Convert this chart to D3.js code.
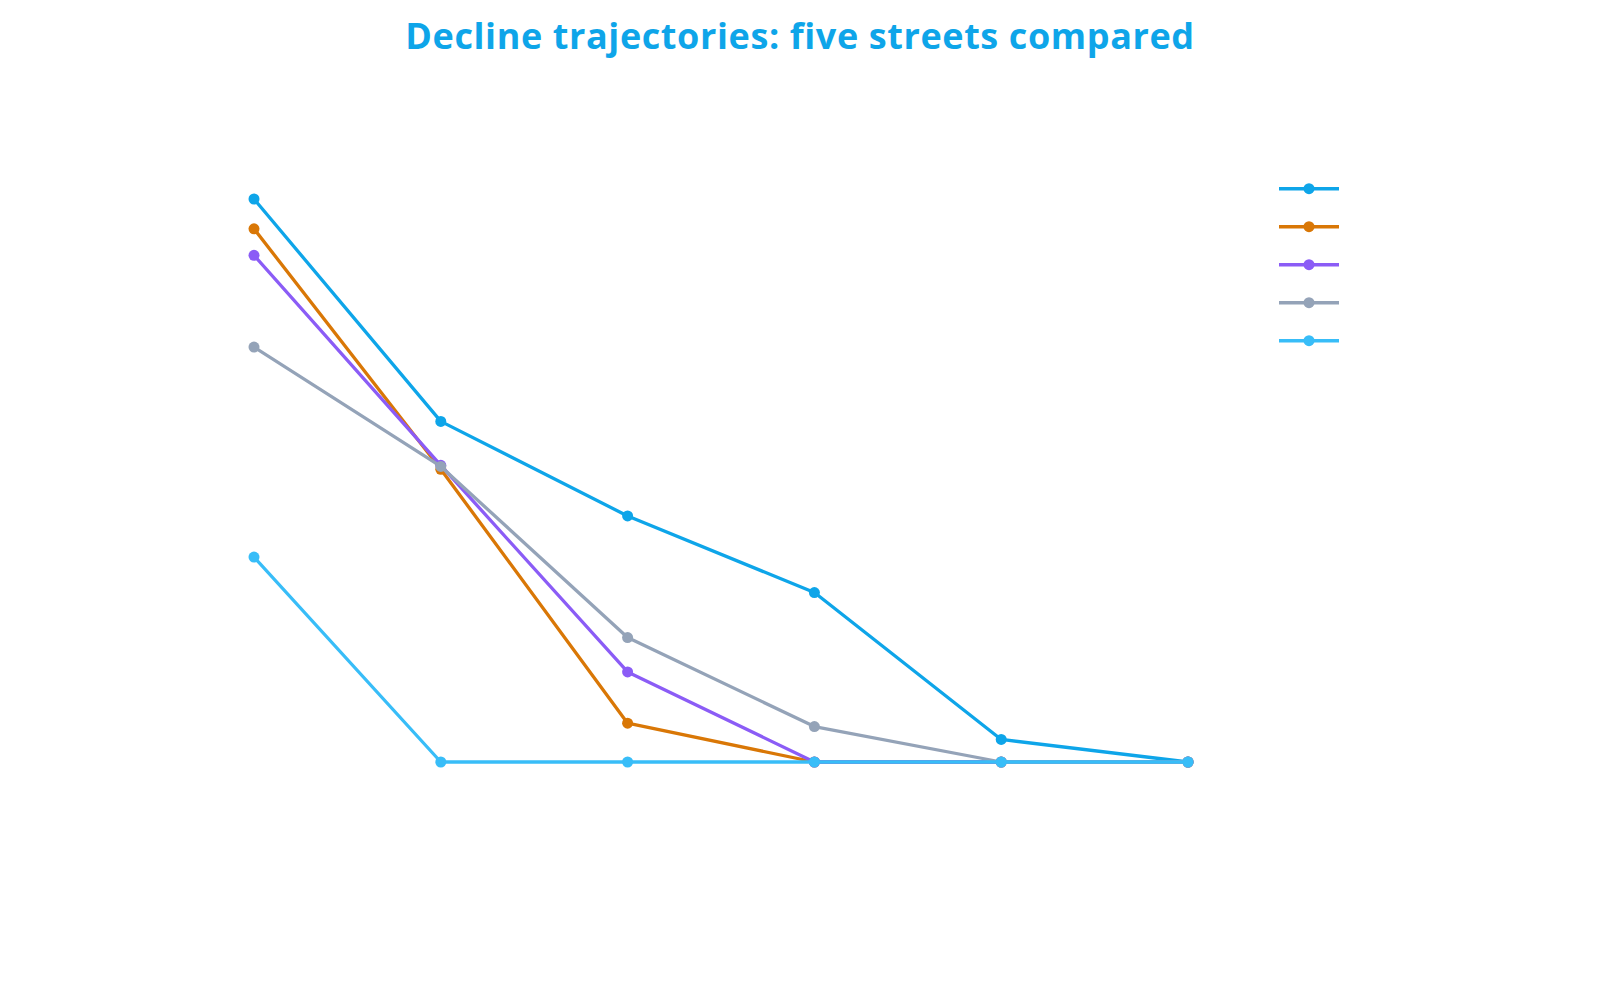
<!DOCTYPE html>
<html>
<head>
<meta charset="utf-8">
<script src="https://cdn.jsdelivr.net/npm/d3@7"></script>
<style>
  html, body { margin: 0; padding: 0; background: #ffffff; }
  svg { display: block; }
</style>
</head>
<body>
<svg id="chart" width="1600" height="1000"></svg>
<script>
// ---- data ----
const periods = ["P1", "P2", "P3", "P4", "P5", "P6"];
const seriesNames = ["Street A", "Street B", "Street C", "Street D", "Street E"];
const streetA = [100, 60.5, 43.7, 30.1, 4.0, 0];
const streetB = [94.7, 52.0, 6.9, 0, 0, 0];
const streetC = [90.0, 52.7, 16.0, 0, 0, 0];
const streetD = [73.7, 52.5, 22.1, 6.3, 0, 0];
const streetE = [36.4, 0, 0, 0, 0, 0];
const seriesColors = ["#0ea5e9", "#d97706", "#8b5cf6", "#94a3b8", "#38bdf8"];
const titleText = "Decline trajectories: five streets compared";

const allSeries = [streetA, streetB, streetC, streetD, streetE];

const svg = d3.select("#chart");

const x = d3.scalePoint().domain(periods).range([254, 1188]);
const y = d3.scaleLinear().domain([0, 100]).range([762, 199]);

svg.append("text")
  .attr("x", 800)
  .attr("y", 49)
  .attr("text-anchor", "middle")
  .attr("font-family", "'Open Sans', 'Noto Sans', sans-serif")
  .attr("font-weight", 700)
  .attr("font-size", 36)
  .attr("letter-spacing", 0.6)
  .attr("fill", "#0ea5e9")
  .text(titleText);

const line = d3.line()
  .x((d, i) => x(periods[i]))
  .y(d => y(d));

allSeries.forEach((vals, si) => {
  const g = svg.append("g");
  g.append("path")
    .datum(vals)
    .attr("d", line)
    .attr("fill", "none")
    .attr("stroke", seriesColors[si])
    .attr("stroke-width", 3.3)
    .attr("stroke-linejoin", "round");
  g.selectAll("circle")
    .data(vals)
    .join("circle")
    .attr("cx", (d, i) => x(periods[i]))
    .attr("cy", d => y(d))
    .attr("r", 5.5)
    .attr("fill", seriesColors[si]);
});

// legend (symbols only, as in reference)
const legend = svg.append("g").attr("transform", "translate(1279,188.7)");
seriesNames.forEach((name, i) => {
  const row = legend.append("g").attr("transform", `translate(0,${i * 38})`);
  row.append("line")
    .attr("x1", 0).attr("x2", 60).attr("y1", 0).attr("y2", 0)
    .attr("stroke", seriesColors[i]).attr("stroke-width", 3.5);
  row.append("circle")
    .attr("cx", 30).attr("cy", 0).attr("r", 5.5)
    .attr("fill", seriesColors[i]);
});
</script>
</body>
</html>
